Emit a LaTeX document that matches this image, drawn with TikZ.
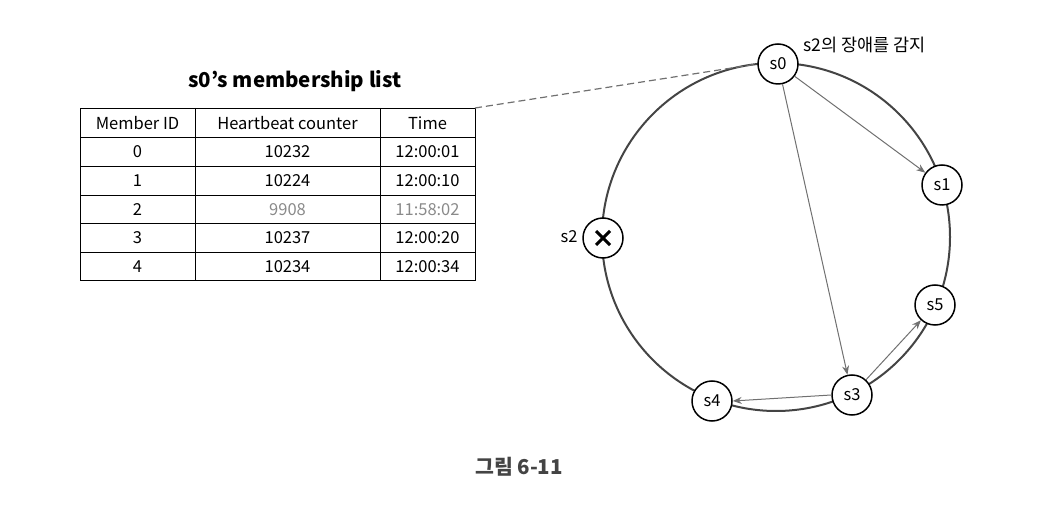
\documentclass[tikz,border=0pt]{standalone}
\usepackage{fontspec}
\setmainfont{Noto Sans CJK KR}
\usetikzlibrary{arrows.meta}
\definecolor{ringc}{HTML}{444444}
\definecolor{arrc}{HTML}{707070}
\definecolor{dimc}{HTML}{8A8A8A}
\begin{document}
\begin{tikzpicture}[x=1pt,y=-1pt,
  srv/.style={circle,draw=black,line width=1.5pt,fill=white,minimum size=40pt,inner sep=0pt,font=\fontsize{16.5}{18}\selectfont},
  msg/.style={draw=arrc,line width=1pt,-{Stealth[length=9pt,width=7pt]}},
  cell/.style={font=\fontsize{16.5}{18}\selectfont},
  grid/.style={draw=black,line width=0.9pt}]
\useasboundingbox (0,0) rectangle (1058,526);
% ring
\coordinate (c) at (776,237);
\draw[ringc,line width=2pt] (c) circle (174);
% nodes
\node[srv] (s0) at (778,64) {s0};
\node[srv] (s1) at (942,185) {s1};
\node[srv] (s2) at (603,238) {};
\node[srv] (s5) at (935,305) {s5};
\node[srv] (s3) at (852,395) {s3};
\node[srv] (s4) at (712,401) {s4};
\draw[line width=3pt] ([shift={(-7,-7)}]s2.center) -- ([shift={(7,7)}]s2.center);
\draw[line width=3pt] ([shift={(-7,7)}]s2.center) -- ([shift={(7,-7)}]s2.center);
\node[font=\fontsize{16.5}{18}\selectfont,anchor=east] (l2) at (581,237) {s2};
\node[font=\fontsize{17.5}{20}\selectfont,anchor=west] (l0) at (800,45) {s2의 장애를 감지};
% messages
\draw[msg] (s0) -- (s1);
\draw[msg] (s0) -- (s3);
\draw[msg] (s3.west) -- (s4.east);
\draw[msg] (s3) -- (s5);
% table
\node[font=\bfseries\fontsize{20.5}{24}\selectfont] (title) at (295,81) {s0’s membership list};
\coordinate (tl) at (80,108);
\coordinate (tr) at (475,108);
\draw[grid] (80,108) rectangle (475,280);
\foreach \y in {137,166,195,223,252} \draw[grid] (80,\y) -- (475,\y);
\draw[grid] (195,108) -- (195,280);
\draw[grid] (380,108) -- (380,280);
\node[cell] (h1) at (137.5,123) {Member ID};
\node[cell] (h2) at (287.5,123) {Heartbeat counter};
\node[cell] (h3) at (427.5,123) {Time};
\node[cell] (a1) at (137.5,152) {0};
\node[cell] (a2) at (287.5,152) {10232};
\node[cell] (a3) at (427.5,152) {12:00:01};
\node[cell] (b1) at (137.5,181) {1};
\node[cell] (b2) at (287.5,181) {10224};
\node[cell] (b3) at (427.5,181) {12:00:10};
\node[cell] (c1) at (137.5,209.5) {2};
\node[cell,text=dimc] (c2) at (287.5,209.5) {9908};
\node[cell,text=dimc] (c3) at (427.5,209.5) {11:58:02};
\node[cell] (d1) at (137.5,238) {3};
\node[cell] (d2) at (287.5,238) {10237};
\node[cell] (d3) at (427.5,238) {12:00:20};
\node[cell] (e1) at (137.5,266.5) {4};
\node[cell] (e2) at (287.5,266.5) {10234};
\node[cell] (e3) at (427.5,266.5) {12:00:34};
% dashed link
\draw[arrc,line width=1.2pt,dash pattern=on 7pt off 4pt] (tr) -- (s0.west);
% caption
\node[font=\bfseries\fontsize{20.5}{24}\selectfont,text=ringc] (cap) at (519,467) {그림 6-11};
\end{tikzpicture}
\end{document}
